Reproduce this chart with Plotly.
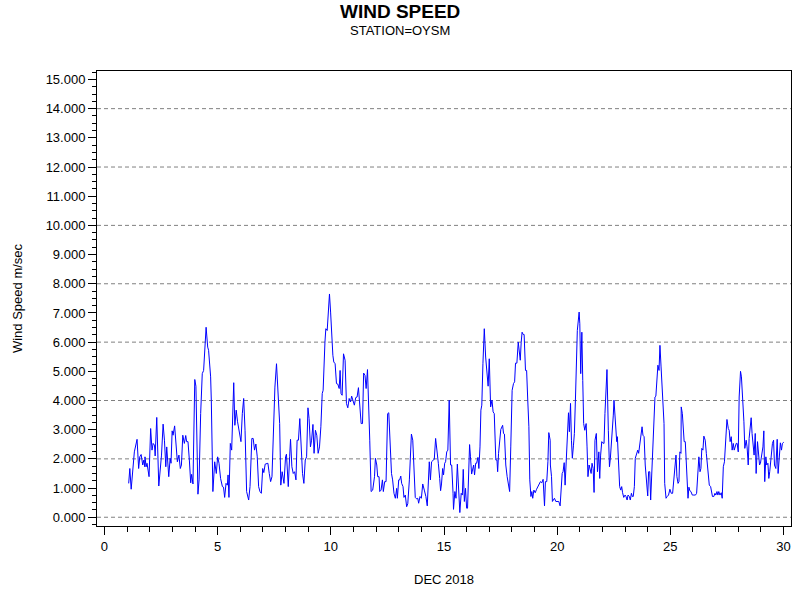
import plotly.graph_objects as go

# day of December 2018 (fractional) and wind speed in m/sec
day = [
    1.07, 1.12, 1.18, 1.26, 1.32, 1.44, 1.51, 1.56, 1.62, 1.69, 1.74, 1.78, 1.79, 1.84, 1.88, 1.97,
    2.04, 2.10, 2.15, 2.21, 2.24, 2.31, 2.40, 2.52, 2.59, 2.65, 2.71, 2.75, 2.84, 2.90, 2.94, 2.99,
    3.03, 3.10, 3.16, 3.22, 3.29, 3.35, 3.40, 3.46, 3.53, 3.59, 3.63, 3.69, 3.75, 3.81, 3.85, 3.91,
    3.99, 4.04, 4.13, 4.18, 4.25, 4.32, 4.38, 4.49, 4.56, 4.60, 4.69, 4.72, 4.79, 4.87, 4.94, 5.00,
    5.06, 5.13, 5.21, 5.26, 5.31, 5.37, 5.43, 5.46, 5.50, 5.56, 5.62, 5.71, 5.76, 5.82, 5.88, 5.97,
    6.03, 6.09, 6.15, 6.21, 6.28, 6.37, 6.43, 6.51, 6.57, 6.63, 6.69, 6.75, 6.81, 6.87, 6.93, 6.99,
    7.04, 7.10, 7.16, 7.22, 7.28, 7.34, 7.40, 7.46, 7.53, 7.60, 7.66, 7.74, 7.79, 7.85, 7.93, 8.00,
    8.04, 8.12, 8.18, 8.22, 8.28, 8.34, 8.40, 8.46, 8.51, 8.57, 8.63, 8.69, 8.75, 8.81, 8.87, 8.93,
    8.99, 9.04, 9.10, 9.15, 9.21, 9.26, 9.32, 9.38, 9.44, 9.50, 9.56, 9.62, 9.66, 9.74, 9.78, 9.84,
    9.90, 9.94, 9.99, 10.04, 10.09, 10.13, 10.19, 10.25, 10.31, 10.37, 10.41, 10.45, 10.50, 10.56,
    10.63, 10.69, 10.75, 10.81, 10.87, 10.92, 10.98, 11.04, 11.10, 11.16, 11.22, 11.28, 11.34,
    11.40, 11.45, 11.51, 11.56, 11.62, 11.67, 11.72, 11.78, 11.85, 11.93, 11.97, 12.03, 12.07,
    12.13, 12.16, 12.22, 12.28, 12.32, 12.38, 12.44, 12.51, 12.56, 12.62, 12.68, 12.73, 12.79,
    12.85, 12.91, 12.94, 13.00, 13.04, 13.09, 13.13, 13.19, 13.23, 13.29, 13.35, 13.40, 13.47,
    13.51, 13.56, 13.62, 13.68, 13.73, 13.79, 13.84, 13.88, 13.94, 14.00, 14.06, 14.13, 14.20,
    14.26, 14.31, 14.35, 14.40, 14.45, 14.53, 14.57, 14.63, 14.69, 14.75, 14.81, 14.85, 14.89,
    14.94, 14.98, 15.03, 15.07, 15.12, 15.17, 15.23, 15.29, 15.34, 15.40, 15.42, 15.48, 15.53,
    15.59, 15.65, 15.70, 15.76, 15.81, 15.85, 15.90, 15.95, 16.00, 16.04, 16.09, 16.13, 16.17,
    16.22, 16.26, 16.31, 16.35, 16.40, 16.44, 16.50, 16.54, 16.59, 16.63, 16.67, 16.72, 16.78,
    16.84, 16.90, 16.92, 16.95, 17.00, 17.06, 17.12, 17.17, 17.22, 17.29, 17.34, 17.37, 17.41,
    17.45, 17.51, 17.59, 17.63, 17.67, 17.73, 17.79, 17.84, 17.90, 17.95, 18.01, 18.07, 18.12,
    18.16, 18.22, 18.28, 18.31, 18.37, 18.41, 18.45, 18.50, 18.54, 18.60, 18.65, 18.70, 18.75,
    18.79, 18.84, 18.88, 18.92, 18.97, 19.03, 19.09, 19.15, 19.20, 19.26, 19.32, 19.38, 19.44,
    19.48, 19.54, 19.59, 19.63, 19.69, 19.70, 19.75, 19.79, 19.84, 19.88, 19.94, 20.01, 20.07,
    20.13, 20.17, 20.22, 20.26, 20.31, 20.35, 20.41, 20.45, 20.50, 20.54, 20.59, 20.63, 20.67,
    20.72, 20.76, 20.81, 20.85, 20.89, 20.97, 21.00, 21.04, 21.09, 21.13, 21.17, 21.22, 21.28,
    21.32, 21.36, 21.41, 21.45, 21.50, 21.54, 21.59, 21.63, 21.67, 21.73, 21.78, 21.84, 21.88,
    21.92, 21.97, 22.01, 22.07, 22.11, 22.20, 22.26, 22.31, 22.35, 22.39, 22.44, 22.48, 22.51,
    22.54, 22.59, 22.63, 22.66, 22.70, 22.76, 22.81, 22.85, 22.89, 22.94, 23.00, 23.04, 23.09,
    23.13, 23.19, 23.23, 23.28, 23.32, 23.36, 23.41, 23.45, 23.51, 23.56, 23.60, 23.66, 23.70,
    23.75, 23.79, 23.84, 23.89, 23.95, 24.00, 24.04, 24.09, 24.13, 24.19, 24.23, 24.28, 24.32,
    24.36, 24.41, 24.45, 24.50, 24.54, 24.59, 24.64, 24.69, 24.72, 24.75, 24.81, 24.86, 24.92,
    24.98, 25.04, 25.10, 25.16, 25.20, 25.25, 25.29, 25.34, 25.38, 25.42, 25.47, 25.48, 25.53,
    25.57, 25.61, 25.66, 25.72, 25.78, 25.82, 25.86, 25.91, 25.97, 26.04, 26.11, 26.16, 26.22,
    26.26, 26.31, 26.35, 26.39, 26.44, 26.48, 26.54, 26.59, 26.66, 26.72, 26.78, 26.82, 26.86,
    26.92, 26.97, 27.01, 27.06, 27.10, 27.14, 27.19, 27.25, 27.29, 27.34, 27.39, 27.44, 27.50,
    27.56, 27.60, 27.64, 27.69, 27.73, 27.78, 27.82, 27.86, 27.91, 27.95, 28.00, 28.04, 28.10,
    28.14, 28.20, 28.25, 28.29, 28.35, 28.39, 28.44, 28.48, 28.53, 28.57, 28.61, 28.66, 28.70,
    28.75, 28.79, 28.85, 28.89, 28.94, 28.98, 29.03, 29.09, 29.13, 29.17, 29.22, 29.26, 29.31,
    29.35, 29.39, 29.45, 29.51, 29.56, 29.60, 29.66, 29.72, 29.76, 29.81, 29.86, 29.91, 29.95,
    30.01,
]
speed = [
    1.16, 1.67, 0.96, 1.90, 2.24, 2.67, 1.67, 2.07, 2.15, 1.79, 1.96, 1.73, 2.07, 1.73, 1.85, 1.39,
    3.04, 2.30, 2.53, 2.47, 2.10, 3.42, 1.07, 2.13, 3.19, 2.64, 1.73, 2.41, 1.39, 2.02, 1.85, 2.96,
    2.81, 3.13, 2.41, 1.90, 2.13, 1.67, 1.79, 2.81, 2.53, 2.80, 2.59, 2.59, 1.96, 1.18, 1.47, 1.14,
    4.72, 4.49, 0.79, 1.28, 3.55, 4.92, 5.03, 6.51, 5.83, 5.72, 4.81, 4.01, 0.88, 1.90, 1.50, 2.07,
    1.85, 1.33, 1.05, 1.03, 0.68, 1.16, 1.10, 1.45, 0.68, 2.53, 2.30, 4.61, 3.15, 3.67, 3.27, 2.76,
    2.59, 3.55, 4.07, 2.98, 0.88, 0.59, 1.05, 2.70, 2.70, 2.30, 2.51, 2.07, 1.05, 0.88, 0.82, 1.67,
    1.53, 1.82, 1.85, 1.85, 1.50, 1.22, 1.39, 2.93, 4.46, 5.26, 4.24, 3.21, 1.10, 1.56, 1.16, 2.07,
    2.16, 1.05, 2.07, 2.67, 1.73, 1.50, 1.56, 1.28, 2.64, 2.64, 3.38, 2.36, 1.50, 1.16, 1.96, 2.07,
    3.75, 3.38, 2.41, 2.64, 3.18, 2.19, 2.98, 2.81, 2.19, 2.41, 3.10, 4.24, 4.35, 6.00, 6.46, 6.40,
    7.37, 7.65, 7.03, 5.95, 5.55, 5.32, 5.26, 4.58, 4.56, 4.41, 5.03, 4.24, 4.18, 5.60,
    5.38, 3.90, 3.75, 4.07, 3.95, 4.15, 4.01, 3.84, 4.10, 4.12, 4.44, 3.67, 3.21,
    3.21, 4.94, 4.86, 4.41, 5.06, 4.01, 2.64, 0.88, 0.93, 1.39, 2.02, 1.79, 1.39,
    1.39, 0.88, 0.93, 1.28, 0.88, 1.22, 1.22, 3.55, 3.58, 2.19, 1.50, 1.28, 0.82,
    0.65, 0.99, 0.65, 1.28, 1.28, 1.41, 1.16, 1.05, 0.68, 0.76, 0.36, 0.46, 1.28,
    2.07, 2.85, 2.64, 1.33, 0.68, 0.63, 0.65, 0.48, 0.71, 0.65, 1.14, 0.93, 0.71,
    0.39, 1.05, 1.90, 1.28, 1.90, 1.96, 1.98, 2.70, 2.13, 1.85, 1.33, 0.91, 1.14,
    1.67, 1.45, 1.85, 1.90, 2.24, 2.30, 4.01, 1.79, 1.79, 0.82, 0.27, 0.88, 0.65,
    1.82, 0.88, 0.16, 0.82, 0.76, 1.64, 0.54, 0.99, 0.31, 0.31, 1.39, 2.49, 2.07,
    1.48, 1.62, 1.79, 1.45, 1.85, 1.85, 2.05, 1.67, 2.41, 3.67, 3.84, 5.26, 6.46,
    5.49, 4.92, 4.86, 4.49, 5.43, 3.78, 4.01, 3.61, 3.55, 1.96, 1.96, 1.56, 2.19,
    2.64, 3.01, 3.15, 2.87, 2.85, 1.79, 1.39, 1.14, 0.88, 2.41, 4.35, 4.58, 4.64,
    5.28, 5.28, 6.00, 5.72, 5.38, 6.00, 6.34, 6.26, 6.26, 5.03, 5.03, 4.01, 3.10,
    1.28, 0.71, 0.88, 0.65, 0.93, 0.84, 0.96, 1.05, 1.10, 1.22, 1.18, 1.30, 0.39,
    1.22, 1.22, 1.90, 2.90, 2.64, 1.79, 1.39, 0.54, 0.62, 0.65, 0.54, 0.54, 0.54,
    0.39, 0.93, 1.50, 1.56, 1.87, 1.10, 1.96, 2.70, 3.58, 2.93, 3.90, 2.64, 2.02,
    2.47, 2.87, 4.12, 5.38, 6.40, 7.03, 6.63, 4.92, 6.34, 4.69, 3.21, 2.98, 3.21,
    2.41, 1.39, 1.79, 1.67, 1.50, 1.85, 1.67, 0.85, 2.64, 2.87, 1.56, 2.24, 1.33,
    2.13, 2.59, 2.55, 2.53, 3.55, 5.06, 2.98, 1.73, 2.02, 2.41, 3.10, 3.50, 4.01,
    3.55, 2.98, 2.59, 2.76, 2.19, 1.05, 0.93, 1.05, 0.84, 0.68, 0.76, 0.71, 0.59,
    0.76, 0.71, 0.59, 0.82, 0.71, 0.71, 1.05, 2.02, 2.24, 2.30, 2.19, 2.55, 2.67,
    3.10, 2.81, 2.76, 1.79, 1.28, 0.73, 1.56, 1.56, 0.59, 1.73, 2.64, 3.10, 4.12,
    4.15, 4.69, 5.21, 5.03, 5.89, 5.15, 4.24, 3.67, 3.21, 1.16, 0.65, 0.71, 0.76,
    0.96, 0.82, 0.82, 1.28, 1.73, 2.13, 1.39, 1.16, 1.22, 2.24, 2.19, 3.78, 3.55,
    2.76, 2.59, 2.59, 1.39, 0.65, 1.03, 0.91, 0.88, 0.76, 0.76, 0.76, 0.82, 1.62,
    2.07, 1.56, 1.67, 2.36, 2.30, 2.78, 2.64, 2.19, 1.67, 1.10, 1.05, 0.82, 0.71,
    0.71, 0.82, 0.76, 0.88, 0.76, 0.88, 0.76, 0.84, 0.65, 1.73, 1.90, 2.64, 3.35,
    3.04, 2.98, 2.59, 2.76, 2.30, 2.53, 2.30, 2.41, 2.53, 2.53, 2.24, 4.12, 5.00,
    4.81, 4.12, 3.27, 2.36, 2.64, 2.41, 1.79, 2.70, 3.27, 3.41, 2.87, 2.53, 2.13,
    2.87, 1.50, 2.59, 2.07, 1.79, 1.85, 2.07, 2.41, 2.96, 1.22, 2.07, 1.79, 1.85,
    1.33, 1.56, 2.07, 2.53, 2.64, 1.79, 1.67, 2.67, 1.50, 1.96, 2.55, 2.30, 2.53,
    2.57,
]

grid_levels = [0, 2, 4, 6, 8, 10, 12, 14]
x_ticks = [0, 5, 10, 15, 20, 25, 30]

font = 'Liberation Sans, Arial, sans-serif'

fig = go.Figure()
fig.add_trace(go.Scatter(x=day, y=speed, mode='lines',
                         line=dict(color='#0000ff', width=1), hoverinfo='x+y'))

# dashed reference lines at every second y tick
for lvl in grid_levels:
    fig.add_hline(y=lvl, line=dict(color='#808080', width=1, dash='4px,3px'), layer='below')

fig.update_layout(
    width=800, height=600,
    paper_bgcolor='white', plot_bgcolor='white',
    margin=dict(l=97, r=9, t=71, b=74, autoexpand=False),
    showlegend=False,
    font=dict(family=font, color='black', size=13),
    annotations=[
        dict(text='<b>WIND SPEED</b>', xref='paper', yref='paper', x=0.4366, y=1.131,
             xanchor='center', yanchor='middle', showarrow=False,
             font=dict(size=19, family=font)),
        dict(text='STATION=OYSM', xref='paper', yref='paper', x=0.4366, y=1.0886,
             xanchor='center', yanchor='middle', showarrow=False,
             font=dict(size=13, family=font)),
    ],
)

fig.update_xaxes(range=[-0.33, 30.33], tickvals=x_ticks, ticks='outside', ticklen=8,
                 tickcolor='black', showgrid=False, zeroline=False, automargin=False,
                 showline=True, linecolor='black', linewidth=1, mirror=True,
                 minor=dict(dtick=1, tick0=0, ticks='outside', ticklen=5, tickcolor='black'),
                 title=dict(text='DEC 2018', standoff=22, font=dict(size=13)),
                 tickfont=dict(size=13))
fig.update_yaxes(range=[-0.3, 15.29], dtick=1, tick0=0, tickformat='.3f',
                 ticks='outside', ticklen=8, tickcolor='black',
                 showgrid=False, zeroline=False, automargin=False,
                 showline=True, linecolor='black', linewidth=1, mirror=True,
                 minor=dict(dtick=0.25, tick0=0, ticks='outside', ticklen=4, tickcolor='black'),
                 title=dict(text='Wind Speed m/sec', standoff=20, font=dict(size=13)),
                 tickfont=dict(size=13))

# the page body has a default 8px margin; drop it so the chart sits at the window origin
fig.write_html("out.html", config={'displayModeBar': False},
               post_script="document.body.style.margin = '0';")
